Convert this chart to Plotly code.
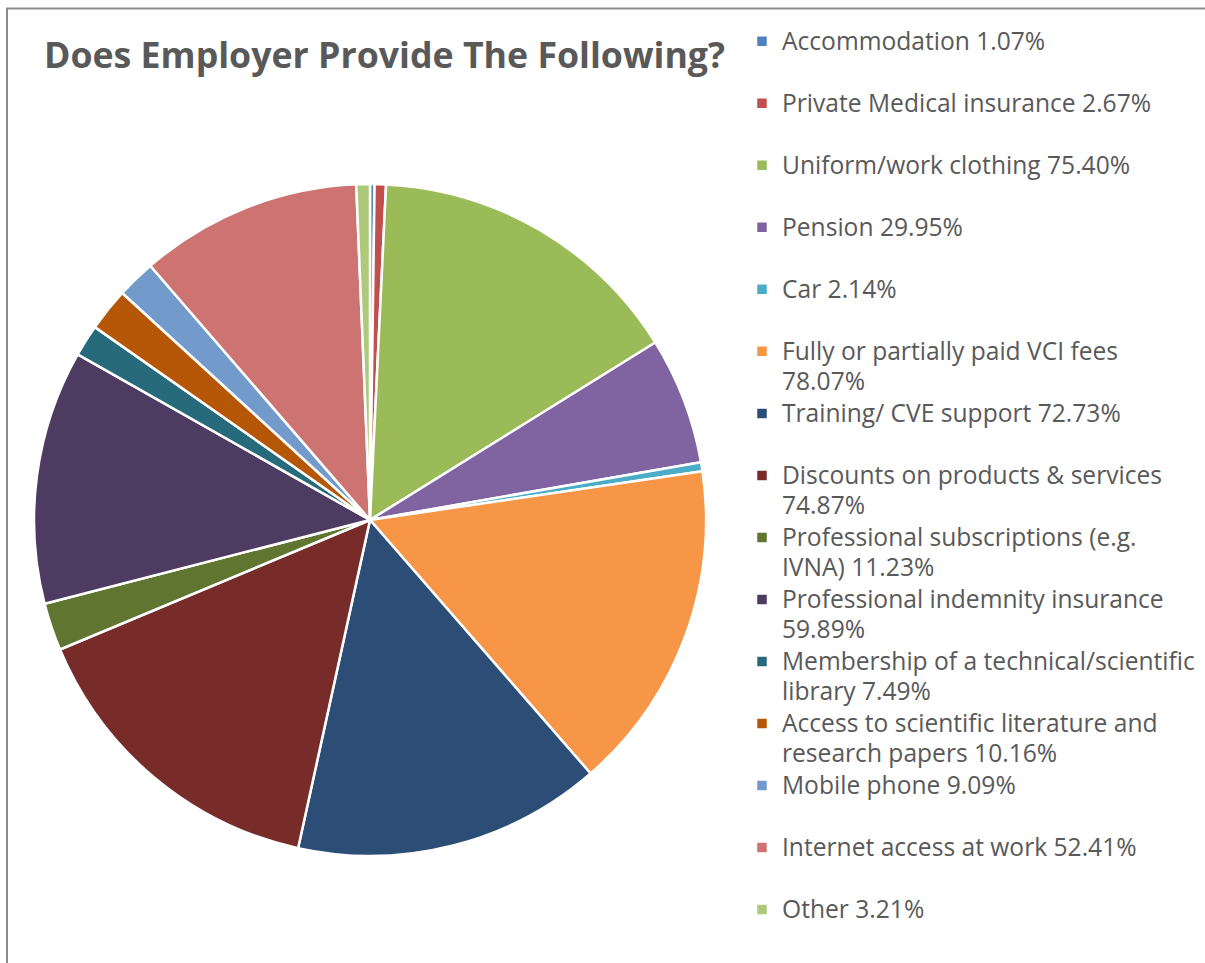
import textwrap
import plotly.graph_objects as go

# Share of respondents whose employer provides each benefit (%)
categories = [
    "Accommodation",
    "Private Medical insurance",
    "Uniform/work clothing",
    "Pension",
    "Car",
    "Fully or partially paid VCI fees",
    "Training/ CVE support",
    "Discounts on products & services",
    "Professional subscriptions (e.g. IVNA)",
    "Professional indemnity insurance",
    "Membership of a technical/scientific library",
    "Access to scientific literature and research papers",
    "Mobile phone",
    "Internet access at work",
    "Other",
]
percentages = [1.07, 2.67, 75.40, 29.95, 2.14, 78.07, 72.73, 74.87,
               11.23, 59.89, 7.49, 10.16, 9.09, 52.41, 3.21]
colors = ["#4F81BD", "#C0504D", "#9BBB59", "#8064A2", "#4BACC6", "#F79646",
          "#2C4D75", "#772C2A", "#5F7530", "#4D3B62", "#276A7C", "#B65708",
          "#729ACA", "#CD7371", "#AFC97A"]

TEXT_GREY = "#595959"
W, H = 1205, 963

# legend row pitch comes from LEGEND_PITCH_SIZE; glyphs are drawn at LEGEND_GLYPH_SIZE
LEGEND_PITCH_SIZE = 22.7
LEGEND_GLYPH_SIZE = 24.6


def legend_label(name, value):
    lines = textwrap.wrap(f"{name} {value:.2f}%", width=36)
    # every entry occupies two lines so the legend rows are evenly spaced
    while len(lines) < 2:
        lines.append("&nbsp;")
    return "<br>".join(
        f'<span style="font-size:{LEGEND_GLYPH_SIZE}px">{ln}</span>' for ln in lines
    )


labels = [legend_label(c, v) for c, v in zip(categories, percentages)]

# pie centre and radius in pixels
cx, cy, r = 370, 520, 336

fig = go.Figure(go.Pie(
    labels=labels,
    values=percentages,
    sort=False,
    direction="clockwise",
    rotation=0,
    textinfo="none",
    hoverinfo="label",
    marker=dict(colors=colors, line=dict(color="white", width=2.5)),
    domain=dict(x=[(cx - r) / W, (cx + r) / W],
                y=[1 - (cy + r) / H, 1 - (cy - r) / H]),
))

fig.update_layout(
    width=W, height=H,
    margin=dict(l=0, r=0, t=0, b=0),
    paper_bgcolor="white",
    plot_bgcolor="white",
    font=dict(family="Open Sans", color=TEXT_GREY),
    title=dict(
        text="<b>Does Employer Provide The Following?</b>",
        font=dict(family="Open Sans", size=35.7, color=TEXT_GREY),
        x=44 / W, xanchor="left", xref="paper",
        y=1 - 56 / H, yanchor="middle", yref="paper",
    ),
    legend=dict(
        x=742 / W, xanchor="left",
        y=1 - 20 / H, yanchor="top",
        font=dict(family="Open Sans", size=LEGEND_PITCH_SIZE, color=TEXT_GREY),
        valign="top",
        itemwidth=30,
        bgcolor="rgba(0,0,0,0)",
    ),
    showlegend=True,
    shapes=[dict(
        type="rect", xref="paper", yref="paper",
        x0=7 / W, x1=1.02, y0=-0.02, y1=1 - 8.5 / H,
        line=dict(color="#8C8C8C", width=2),
        fillcolor="rgba(0,0,0,0)",
        layer="below",
    )],
)

fig.write_html("out.html")
